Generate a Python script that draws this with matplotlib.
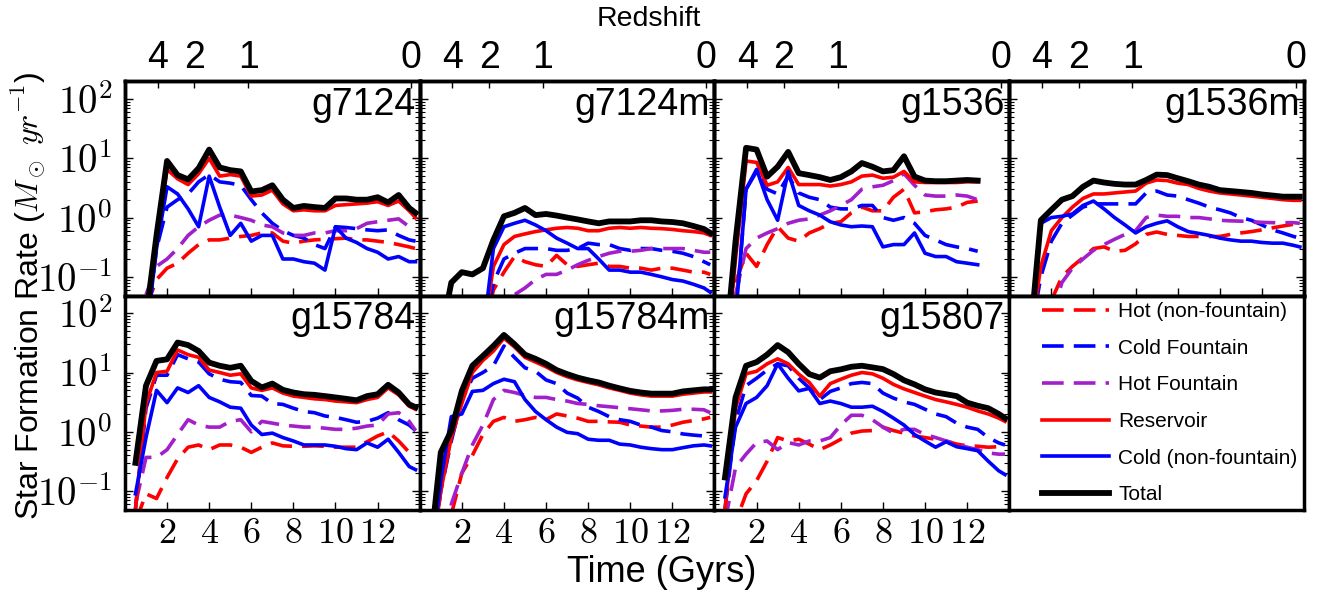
import numpy as np
import matplotlib
matplotlib.use('Agg')
import matplotlib.pyplot as plt
from matplotlib.ticker import NullFormatter

nan = float('nan')

# time grid (Gyr) shared by every galaxy
time_gyr = [0.5, 1.0, 1.5, 2.0, 2.5, 3.0, 3.5, 4.0, 4.5, 5.0, 5.5, 6.0, 6.5, 7.0,
            7.5, 8.0, 8.5, 9.0, 9.5, 10.0, 10.5, 11.0, 11.5, 12.0, 12.5, 13.0, 13.5, 13.8]

# star formation rate per component (Msun/yr)
g7124_hot = [nan, 0.03, 0.09, 0.14, 0.17, 0.25, 0.35, 0.42, 0.42, 0.45, 0.48, 0.5, 0.55, 0.55, 0.4, 0.37, 0.4, 0.42, 0.43, 0.44, 0.45, 0.42, 0.42, 0.4, 0.38, 0.35, 0.32, 0.3]
g7124_coldf = [nan, 0.01, 0.3, 1.5, 2.0, 2.5, 4.0, 5.3, 4.0, 3.8, 3.5, 2.0, 1.2, 0.8, 0.6, 0.5, 0.45, 0.35, 0.3, 0.7, 0.68, 0.65, 0.62, 0.6, 0.62, 0.5, 0.42, 0.4]
g7124_hotf = [nan, 0.05, 0.15, 0.2, 0.3, 0.5, 0.7, 0.9, 1.1, 1.1, 1.0, 0.9, 0.75, 0.7, 0.55, 0.5, 0.5, 0.55, 0.55, 0.6, 0.6, 0.65, 0.8, 0.85, 0.9, 0.95, 0.7, 0.6]
g7124_res = [nan, 0.02, 0.4, 6.5, 4.5, 3.6, 5.5, 10.0, 5.0, 5.3, 5.0, 2.3, 2.4, 2.9, 1.7, 1.3, 1.35, 1.3, 1.3, 1.6, 1.65, 1.7, 1.75, 1.85, 1.6, 1.9, 1.3, 1.0]
g7124_cold = [nan, 0.01, 0.3, 3.3, 2.5, 1.4, 0.7, 5.0, 1.5, 0.5, 0.8, 0.4, 0.5, 0.5, 0.2, 0.2, 0.18, 0.17, 0.13, 0.7, 0.45, 0.38, 0.3, 0.26, 0.2, 0.22, 0.18, 0.18]
g7124_total = [nan, 0.02, 0.5, 9.0, 5.2, 4.4, 6.8, 14.0, 7.0, 6.3, 6.0, 2.75, 2.9, 3.5, 2.0, 1.45, 1.57, 1.5, 1.45, 2.1, 2.1, 2.0, 2.0, 2.2, 1.8, 2.4, 1.45, 1.2]

g7124m_hot = [nan, nan, nan, nan, nan, 0.01, 0.06, 0.12, 0.22, 0.18, 0.16, 0.15, 0.23, 0.16, 0.15, 0.16, 0.17, 0.15, 0.15, 0.14, 0.14, 0.13, 0.14, 0.14, 0.13, 0.12, 0.12, 0.11]
g7124m_coldf = [nan, nan, nan, nan, nan, 0.01, 0.08, 0.2, 0.25, 0.3, 0.3, 0.3, 0.28, 0.28, 0.3, 0.37, 0.35, 0.35, 0.3, 0.28, 0.3, 0.3, 0.28, 0.27, 0.25, 0.22, 0.18, 0.16]
g7124m_hotf = [nan, nan, nan, nan, nan, nan, 0.005, 0.02, 0.05, 0.065, 0.09, 0.11, 0.11, 0.13, 0.16, 0.19, 0.22, 0.25, 0.27, 0.27, 0.28, 0.3, 0.3, 0.3, 0.3, 0.28, 0.26, 0.26]
g7124m_res = [nan, nan, nan, nan, nan, 0.01, 0.15, 0.35, 0.48, 0.53, 0.58, 0.62, 0.66, 0.68, 0.66, 0.6, 0.6, 0.66, 0.68, 0.66, 0.68, 0.66, 0.65, 0.63, 0.6, 0.58, 0.55, 0.5]
g7124m_cold = [nan, nan, nan, nan, nan, 0.01, 0.3, 0.7, 0.8, 0.9, 0.75, 0.6, 0.45, 0.37, 0.3, 0.3, 0.2, 0.13, 0.13, 0.12, 0.12, 0.11, 0.1, 0.09, 0.085, 0.075, 0.065, 0.055]
g7124m_total = [nan, 0.01, 0.08, 0.12, 0.11, 0.14, 0.42, 1.05, 1.2, 1.45, 1.1, 1.15, 1.08, 1.0, 0.93, 0.86, 0.8, 0.86, 0.86, 0.86, 0.9, 0.9, 0.86, 0.84, 0.8, 0.72, 0.64, 0.55]

g1536_hot = [nan, 0.08, 0.25, 0.15, 0.35, 0.7, 0.45, 0.4, 0.55, 0.65, 0.8, 0.85, 1.2, 1.5, 1.3, 1.3, 2.2, 3.0, 1.2, 1.25, 1.35, 1.4, 1.5, 1.8, 1.9, nan, nan, nan]
g1536_coldf = [nan, 0.02, 3.0, 6.0, 3.0, 2.5, 5.0, 2.6, 2.2, 2.0, 1.5, 1.4, 1.4, 1.6, 1.6, 1.0, 0.9, 1.0, 0.8, 0.5, 0.42, 0.35, 0.32, 0.3, 0.27, nan, nan, nan]
g1536_hotf = [nan, 0.05, 0.3, 0.45, 0.55, 0.65, 0.8, 0.9, 0.95, 1.1, 1.3, 1.6, 2.0, 3.0, 3.3, 3.5, 4.2, 5.5, 3.5, 2.4, 2.3, 2.3, 2.4, 2.3, 2.0, nan, nan, nan]
g1536_res = [0.003, 0.2, 9.0, 8.5, 3.5, 4.0, 7.0, 3.6, 3.6, 3.6, 3.4, 3.6, 4.0, 5.0, 5.2, 4.6, 4.8, 6.0, 4.0, 3.9, 3.9, 3.9, 3.9, 4.0, 4.0, nan, nan, nan]
g1536_cold = [nan, 0.02, 3.0, 6.5, 2.0, 0.9, 6.0, 1.6, 1.3, 1.1, 0.85, 0.75, 0.7, 0.72, 0.7, 0.32, 0.35, 0.35, 0.55, 0.25, 0.22, 0.22, 0.18, 0.17, 0.16, nan, nan, nan]
g1536_total = [0.005, 0.4, 15.0, 14.0, 4.9, 7.2, 12.8, 5.6, 5.2, 4.8, 4.3, 4.8, 6.0, 8.3, 7.2, 6.0, 6.3, 10.8, 4.9, 4.2, 4.1, 4.1, 4.2, 4.3, 4.2, nan, nan, nan]

g1536m_hot = [nan, nan, nan, 0.04, 0.1, 0.15, 0.21, 0.3, 0.32, 0.27, 0.28, 0.36, 0.52, 0.57, 0.52, 0.5, 0.48, 0.48, 0.48, 0.48, 0.52, 0.55, 0.58, 0.62, 0.67, 0.72, 0.77, 0.8]
g1536m_coldf = [nan, 0.01, 0.1, 0.4, 0.8, 1.1, 1.5, 1.7, 1.7, 1.7, 1.7, 1.7, 2.6, 2.8, 2.4, 2.3, 2.0, 1.75, 1.5, 1.35, 1.2, 1.0, 0.9, 0.75, 0.62, 0.55, 0.48, 0.45]
g1536m_hotf = [nan, nan, nan, 0.02, 0.08, 0.14, 0.2, 0.28, 0.35, 0.43, 0.52, 0.6, 1.0, 1.1, 1.05, 1.05, 1.0, 1.0, 0.95, 0.9, 0.88, 0.87, 0.85, 0.83, 0.82, 0.82, 0.82, 0.8]
g1536m_res = [nan, 0.01, 0.15, 0.6, 1.0, 1.5, 2.1, 2.5, 2.5, 2.6, 2.7, 2.8, 3.8, 4.3, 4.2, 3.8, 3.6, 3.1, 2.8, 2.6, 2.5, 2.4, 2.3, 2.2, 2.1, 2.0, 1.95, 1.95]
g1536m_cold = [nan, 0.01, 0.8, 1.0, 1.05, 1.15, 1.6, 1.9, 1.4, 1.0, 0.75, 0.55, 0.7, 0.8, 0.88, 0.7, 0.58, 0.54, 0.5, 0.45, 0.42, 0.4, 0.4, 0.38, 0.37, 0.37, 0.34, 0.32]
g1536m_total = [nan, 0.01, 0.9, 1.35, 2.0, 2.3, 3.3, 4.2, 3.9, 3.7, 3.6, 3.6, 4.3, 5.3, 5.2, 4.6, 4.1, 3.6, 3.3, 2.9, 2.8, 2.7, 2.6, 2.45, 2.35, 2.25, 2.25, 2.25]

g15784_hot = [0.03, 0.09, 0.075, 0.17, 0.35, 0.55, 0.6, 0.5, 0.6, 0.6, 0.55, 0.45, 0.55, 0.65, 0.58, 0.57, 0.57, 0.58, 0.57, 0.55, 0.55, 0.55, 0.68, 0.85, 1.0, 0.7, 0.45, 0.42]
g15784_coldf = [0.05, 2.5, 9.0, 9.0, 20.0, 17.0, 15.0, 9.5, 7.7, 7.0, 6.8, 4.1, 4.0, 3.0, 2.9, 2.5, 2.2, 2.1, 1.85, 1.75, 1.6, 1.45, 1.5, 1.7, 2.1, 1.6, 1.3, 1.05]
g15784_hotf = [0.06, 0.37, 0.37, 0.5, 0.9, 1.6, 1.3, 1.2, 1.2, 1.5, 1.6, 1.0, 1.5, 1.4, 1.3, 1.25, 1.2, 1.2, 1.15, 1.1, 1.1, 1.15, 1.25, 1.3, 2.0, 2.1, 1.5, 1.05]
g15784_res = [0.05, 3.0, 10.0, 10.5, 24.0, 20.0, 18.0, 11.0, 10.0, 9.0, 9.5, 5.5, 5.0, 5.5, 4.5, 4.0, 3.8, 3.6, 3.5, 3.3, 3.2, 3.1, 3.5, 3.8, 5.5, 4.2, 2.7, 2.4]
g15784_cold = [0.09, 0.8, 5.0, 3.1, 5.5, 4.6, 6.0, 3.8, 3.2, 2.6, 2.5, 1.3, 0.9, 0.95, 0.8, 0.7, 0.6, 0.6, 0.6, 0.57, 0.52, 0.5, 0.65, 0.55, 0.75, 0.45, 0.26, 0.23]
g15784_total = [0.3, 6.0, 15.7, 16.7, 32.0, 29.0, 23.0, 14.7, 13.0, 12.0, 13.0, 7.2, 5.6, 6.5, 5.1, 4.6, 4.3, 4.2, 4.0, 3.8, 3.6, 3.4, 4.0, 4.3, 6.2, 4.6, 2.9, 2.6]

g15784m_hot = [nan, nan, 0.04, 0.2, 0.4, 0.9, 1.5, 1.75, 1.5, 1.6, 1.75, 1.6, 2.0, 1.85, 1.7, 1.5, 1.5, 1.47, 1.45, 1.3, 1.25, 1.2, 1.2, 1.3, 1.45, 1.55, 1.65, 1.75]
g15784m_coldf = [0.005, 0.1, 0.7, 3.5, 8.0, 10.0, 13.0, 28.0, 18.0, 12.0, 10.5, 7.5, 6.5, 4.5, 3.7, 2.6, 2.2, 1.8, 1.6, 1.5, 1.3, 1.2, 1.05, 1.0, 0.92, 0.88, 0.85, 0.83]
g15784m_hotf = [nan, 0.005, 0.06, 0.2, 0.6, 1.3, 3.5, 5.0, 4.6, 4.1, 3.8, 3.8, 3.5, 3.3, 3.0, 2.9, 2.75, 2.65, 2.55, 2.45, 2.35, 2.25, 2.25, 2.3, 2.4, 2.4, 2.35, 2.1]
g15784m_res = [0.005, 0.1, 0.8, 3.0, 10.0, 16.0, 23.0, 38.0, 27.0, 18.0, 15.0, 12.5, 10.0, 8.5, 7.5, 6.8, 6.2, 5.5, 5.0, 4.5, 4.2, 4.0, 4.0, 4.0, 4.3, 4.5, 4.7, 4.7]
g15784m_cold = [0.005, 0.15, 1.8, 2.0, 4.8, 5.0, 6.5, 7.7, 7.0, 3.5, 2.2, 1.6, 1.2, 0.98, 0.93, 0.75, 0.72, 0.72, 0.62, 0.6, 0.55, 0.52, 0.5, 0.5, 0.54, 0.58, 0.6, 0.58]
g15784m_total = [0.01, 0.45, 1.05, 4.9, 13.0, 19.0, 28.0, 43.0, 30.0, 20.0, 17.0, 14.0, 11.0, 9.4, 8.2, 7.4, 6.8, 6.0, 5.4, 4.9, 4.6, 4.4, 4.4, 4.4, 4.8, 5.0, 5.2, 5.2]

g15807_hot = [0.005, 0.03, 0.09, 0.15, 0.32, 0.8, 0.7, 0.75, 0.62, 0.5, 0.6, 0.75, 0.95, 1.03, 1.05, 1.2, 1.05, 0.95, 0.85, 0.8, 0.75, 0.7, 0.62, 0.58, 0.57, 0.55, 0.56, 0.6]
g15807_coldf = [0.05, 1.5, 6.0, 8.0, 11.0, 14.0, 13.0, 8.0, 5.5, 3.5, 4.8, 5.5, 6.5, 6.8, 6.5, 4.5, 3.7, 3.2, 2.9, 2.4, 2.0, 1.8, 1.4, 1.2, 1.1, 0.8, 0.65, 0.6]
g15807_hotf = [0.03, 0.25, 0.42, 0.66, 0.7, 0.5, 0.66, 0.6, 0.7, 0.7, 0.8, 1.3, 1.9, 1.9, 1.6, 1.2, 0.95, 1.1, 1.1, 0.9, 0.8, 0.7, 0.62, 0.55, 0.5, 0.44, 0.42, 0.42]
g15807_res = [0.05, 2.5, 9.5, 10.5, 14.0, 17.0, 14.0, 9.4, 6.8, 4.0, 6.5, 7.7, 9.0, 10.0, 9.5, 8.0, 6.3, 5.3, 4.6, 4.0, 3.5, 3.2, 2.9, 2.6, 2.25, 2.0, 1.7, 1.5]
g15807_cold = [0.08, 1.2, 3.0, 3.8, 6.0, 14.0, 8.0, 4.9, 5.4, 3.0, 3.3, 3.0, 2.6, 2.6, 2.7, 2.2, 1.7, 1.3, 0.9, 0.7, 0.55, 0.68, 0.56, 0.52, 0.48, 0.32, 0.22, 0.19]
g15807_total = [0.17, 3.8, 13.0, 15.0, 20.0, 29.0, 22.0, 14.0, 9.4, 8.2, 10.5, 11.3, 12.5, 13.0, 12.2, 11.4, 9.4, 7.4, 6.3, 5.2, 4.6, 4.3, 4.0, 3.1, 2.75, 2.5, 2.0, 1.7]

galaxy_names = ['g7124', 'g7124m', 'g1536', 'g1536m', 'g15784', 'g15784m', 'g15807']
galaxy_series = [
    [g7124_hot, g7124_coldf, g7124_hotf, g7124_res, g7124_cold, g7124_total],
    [g7124m_hot, g7124m_coldf, g7124m_hotf, g7124m_res, g7124m_cold, g7124m_total],
    [g1536_hot, g1536_coldf, g1536_hotf, g1536_res, g1536_cold, g1536_total],
    [g1536m_hot, g1536m_coldf, g1536m_hotf, g1536m_res, g1536m_cold, g1536m_total],
    [g15784_hot, g15784_coldf, g15784_hotf, g15784_res, g15784_cold, g15784_total],
    [g15784m_hot, g15784m_coldf, g15784m_hotf, g15784m_res, g15784m_cold, g15784m_total],
    [g15807_hot, g15807_coldf, g15807_hotf, g15807_res, g15807_cold, g15807_total],
]
component_labels = ['Hot (non-fountain)', 'Cold Fountain', 'Hot Fountain',
                    'Reservoir', 'Cold (non-fountain)', 'Total']

redshift_labels = ['4', '2', '1', '0']
redshift_times = [1.55, 3.3, 5.85, 13.6]
time_ticks = [2, 4, 6, 8, 10, 12]
time_ticklabels = [r'$2$', r'$4$', r'$6$', r'$8$', r'$10$', r'$12$']
sfr_ticks = [0.1, 1, 10, 100]
sfr_ticklabels = [r'$10^{-1}$', r'$10^{0}$', r'$10^{1}$', r'$10^{2}$']

purple = '#a21fc9'
dash = (6, 2.8)
styles = [
    dict(color='r', lw=2.6, dashes=dash),
    dict(color='b', lw=2.6, dashes=dash),
    dict(color=purple, lw=2.6, dashes=dash),
    dict(color='r', lw=2.6),
    dict(color='b', lw=2.6),
    dict(color='k', lw=4.2),
]


def style_frame(ax):
    for sp in ax.spines.values():
        sp.set_linewidth(2.5)


def main():
    plt.rcParams['font.family'] = ['Liberation Sans', 'DejaVu Sans']
    plt.rcParams['mathtext.fontset'] = 'cm'

    fig, axes = plt.subplots(2, 4, figsize=(13.18, 5.94), dpi=100)
    plt.subplots_adjust(left=0.0948, right=0.9894, top=0.8628, bottom=0.1414,
                        wspace=0, hspace=0)

    handles = []
    for i, name in enumerate(galaxy_names):
        row, col = divmod(i, 4)
        ax = axes[row, col]
        lines = []
        for vals, st in zip(galaxy_series[i], styles):
            ln, = ax.plot(time_gyr, vals, **st)
            lines.append(ln)
        if i == 0:
            handles = lines
        ax.set_yscale('log')
        ax.set_xlim(0, 14)
        ax.set_ylim(0.048, 197)
        ax.set_xticks(time_ticks)
        if row == 1:
            ax.set_xticklabels(time_ticklabels, fontsize=26)
        else:
            ax.set_xticklabels([])
        ax.set_yticks(sfr_ticks)
        if col == 0:
            ax.set_yticklabels(sfr_ticklabels, fontsize=28)
        else:
            ax.set_yticklabels([])
        ax.yaxis.set_minor_formatter(NullFormatter())
        ax.tick_params(axis='x', which='major', direction='in', length=6, width=1,
                       top=False, bottom=True, pad=4)
        ax.tick_params(axis='y', which='major', direction='in', length=6, width=1,
                       left=True, right=True, pad=9)
        ax.tick_params(axis='y', which='minor', direction='in', length=3.5, width=0.8,
                       left=True, right=True)
        style_frame(ax)
        ax.text(0.985, 0.975, name, transform=ax.transAxes, ha='right', va='top',
                fontsize=27)

        if row == 0:
            top = ax.twiny()
            top.set_xlim(0, 14)
            top.set_xticks(redshift_times)
            top.set_xticklabels(redshift_labels, fontsize=27)
            top.tick_params(direction='in', length=5, width=1, pad=4)
            style_frame(top)

    # legend panel
    lax = axes[1, 3]
    lax.set_xticks([])
    lax.set_yticks([])
    style_frame(lax)
    lax.legend(handles, component_labels, loc='upper left', frameon=False,
               fontsize=15, handlelength=3.2, handletextpad=0.45, labelspacing=0.85,
               borderaxespad=0.2, bbox_to_anchor=(0.07, 1.03))

    fig.text(0.492, 0.968, 'Redshift', ha='center', va='center', fontsize=20.5)
    fig.text(0.502, 0.037, 'Time (Gyrs)', ha='center', va='center', fontsize=26)
    fig.text(0.022, 0.503, r'Star Formation Rate ($M_\odot\ yr^{-1}$)', rotation=90,
             ha='center', va='center', fontsize=23)

    fig.savefig('out.png', dpi=100)


if __name__ == '__main__':
    main()
